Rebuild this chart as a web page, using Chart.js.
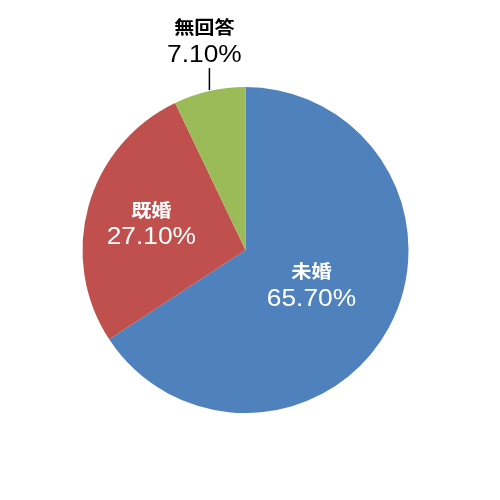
<!DOCTYPE html>
<html lang="ja">
<head>
    <meta charset="UTF-8">
    <title>婚姻状況</title>
    <script src="https://cdn.jsdelivr.net/npm/chart.js"></script>
    <style>
        body { margin: 0; background: #fff; }
        canvas { display: block; }
    </style>
</head>
<body>
    <canvas id="pieChart" width="500" height="500"></canvas>

    <script>
        // data
        const categories = ['未婚', '既婚', '無回答'];
        const shares = [65.7, 27.1, 7.1];   // percent
        const colors = ['#4F81BD', '#C0504D', '#9BBB59'];

        // draws the "name / xx.xx%" labels at each slice
        const sliceLabels = {
            id: 'sliceLabels',
            afterDatasetsDraw(chart, args, opts) {
                const ctx = chart.ctx;
                const meta = chart.getDatasetMeta(0);
                const ds = chart.data.datasets[0];
                meta.data.forEach((arc, i) => {
                    const p = arc.getProps(['x', 'y', 'startAngle', 'endAngle', 'outerRadius'], true);
                    const mid = (p.startAngle + p.endAngle) / 2;
                    let cx, cy, color;
                    ctx.save();
                    if (opts.outside[i]) {
                        // leader line from the rim straight up
                        const ex = p.x + p.outerRadius * Math.cos(mid);
                        const ey = p.y + p.outerRadius * Math.sin(mid);
                        ctx.strokeStyle = '#000';
                        ctx.lineWidth = 1.5;
                        ctx.beginPath();
                        ctx.moveTo(ex, ey - 1);
                        ctx.lineTo(ex, ey - 23);
                        ctx.stroke();
                        cx = ex - 5;
                        cy = ey - 50;
                        color = '#000';
                    } else {
                        const r = p.outerRadius * opts.radius[i];
                        cx = p.x + r * Math.cos(mid);
                        cy = p.y + r * Math.sin(mid);
                        color = '#fff';
                    }
                    ctx.translate(cx, cy);
                    ctx.scale(1.12, 1);
                    ctx.fillStyle = color;
                    ctx.textAlign = 'center';
                    ctx.textBaseline = 'middle';
                    ctx.font = 'bold 18px "Noto Sans CJK JP"';
                    ctx.fillText(chart.data.labels[i], 0, -14);
                    ctx.font = '23.5px "Liberation Sans", Arial, sans-serif';
                    ctx.fillText(ds.data[i].toFixed(2) + '%', 0, 14);
                    ctx.restore();
                });
            }
        };

        const ctx = document.getElementById('pieChart').getContext('2d');

        new Chart(ctx, {
            type: 'pie',
            data: {
                labels: categories,
                datasets: [{
                    data: shares,
                    backgroundColor: colors,
                    borderWidth: 0
                }]
            },
            options: {
                responsive: false,
                animation: false,
                devicePixelRatio: 1,
                layout: {
                    padding: { left: 82, right: 91, top: 87, bottom: 87 }
                },
                plugins: {
                    legend: { display: false },
                    tooltip: { enabled: false },
                    sliceLabels: {
                        outside: [false, false, true],
                        radius: [0.46, 0.6, 0]
                    }
                }
            },
            plugins: [sliceLabels]
        });
    </script>
</body>
</html>
